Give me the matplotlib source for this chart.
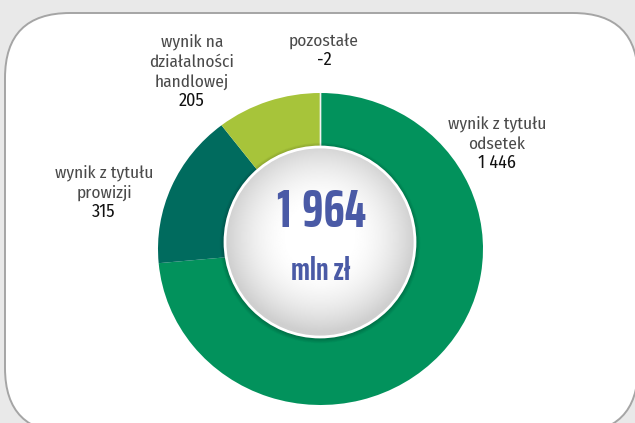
import numpy as np
import matplotlib
matplotlib.use("Agg")
import matplotlib.pyplot as plt
from matplotlib.patches import FancyBboxPatch, Circle

# data
labels = ["wynik z tytułu\nodsetek", "wynik z tytułu\nprowizji",
          "wynik na\ndziałalności\nhandlowej", "pozostałe"]
values = [1446, 315, 205, -2]
value_text = ["1 446", "315", "205", "-2"]
colors = ["#02925c", "#006b5e", "#a7c43a", "#ffffff"]
total_text = "1\u2009964"
unit_text = "mln zł"

W, H = 635, 423
fig = plt.figure(figsize=(W / 100, H / 100), dpi=100, facecolor="#e9e9e9")

# background panel, pixel coordinates
bg = fig.add_axes([0, 0, 1, 1])
bg.set_xlim(0, W)
bg.set_ylim(H, 0)
bg.axis("off")
panel = FancyBboxPatch((5, 13), 633, 420, boxstyle="round,pad=0,rounding_size=65",
                       facecolor="white", edgecolor="#a5a5a5", linewidth=1.4)
bg.add_patch(panel)

# donut (slightly elliptical in the source, so the axes is not square)
dax = fig.add_axes([158 / W, (H - 405) / H, 325 / W, 312 / H])
wedges, _ = dax.pie([max(v, 0) for v in values], colors=colors, radius=1,
                    startangle=90, counterclock=False,
                    wedgeprops=dict(width=0.5, linewidth=0))
dax.set_xlim(-1, 1)
dax.set_ylim(-1, 1)
dax.set_aspect("auto")
dax.axis("off")
# "pozostałe" is negative, so it only shows as a thin seam at 12 o'clock
wedges[3].set_edgecolor("#f2f2f2")
wedges[3].set_linewidth(1.2)

# overlay for centre disc and labels
ov = fig.add_axes([0, 0, 1, 1])
ov.axis("off")
ov.patch.set_alpha(0)

cx, cy, r = 320, 242, 95
for i in range(7):
    ov.add_patch(Circle((cx, cy + 1), r + 1 + i * 0.7, facecolor="black",
                        alpha=0.03, linewidth=0))

yy, xx = np.mgrid[-1:1:300j, -1:1:300j]
rr = np.sqrt(xx ** 2 + (yy + 0.05) ** 2)
shade = 1 - 0.19 * np.clip((rr - 0.3) / 0.7, 0, 1) ** 1.8
img = ov.imshow(shade, cmap="gray", vmin=0, vmax=1, extent=[cx - r, cx + r, cy + r, cy - r],
                interpolation="bilinear", zorder=3)
disc = Circle((cx, cy), r, transform=ov.transData)
img.set_clip_path(disc)
ov.add_patch(Circle((cx, cy), r, facecolor="none", edgecolor="white", linewidth=2, zorder=4))
ov.set_xlim(0, W)
ov.set_ylim(H, 0)

blue = "#4a5aa6"
big_font = ["Saira ExtraCondensed", "DejaVu Sans"]
ov.text(322, 212, total_text, ha="center", va="center", fontsize=39, fontweight="bold",
        color=blue, family=big_font, zorder=5)
ov.text(321, 271, unit_text, ha="center", va="center", fontsize=23, fontweight="bold",
        color=blue, family=big_font, zorder=5)

# label positions (pixels): centre x, top line y
label_pos = [(497, 124), (104, 173), (192, 42), (324, 41)]
lab_font = ["Fira Sans Condensed", "Saira SemiCondensed", "DejaVu Sans"]
for lab, vt, (x, y) in zip(labels, value_text, label_pos):
    lines = lab.split("\n")
    for k, line in enumerate(lines):
        ov.text(x, y + k * 20, line, ha="center", va="center", fontsize=12.5,
                color="#4a4a4a", family=lab_font, zorder=5)
    ov.text(x, y + len(lines) * 20 - 1, vt, ha="center", va="center", fontsize=13,
            color="#111111", family=lab_font, zorder=5)

fig.savefig("out.png", dpi=100, facecolor=fig.get_facecolor())
